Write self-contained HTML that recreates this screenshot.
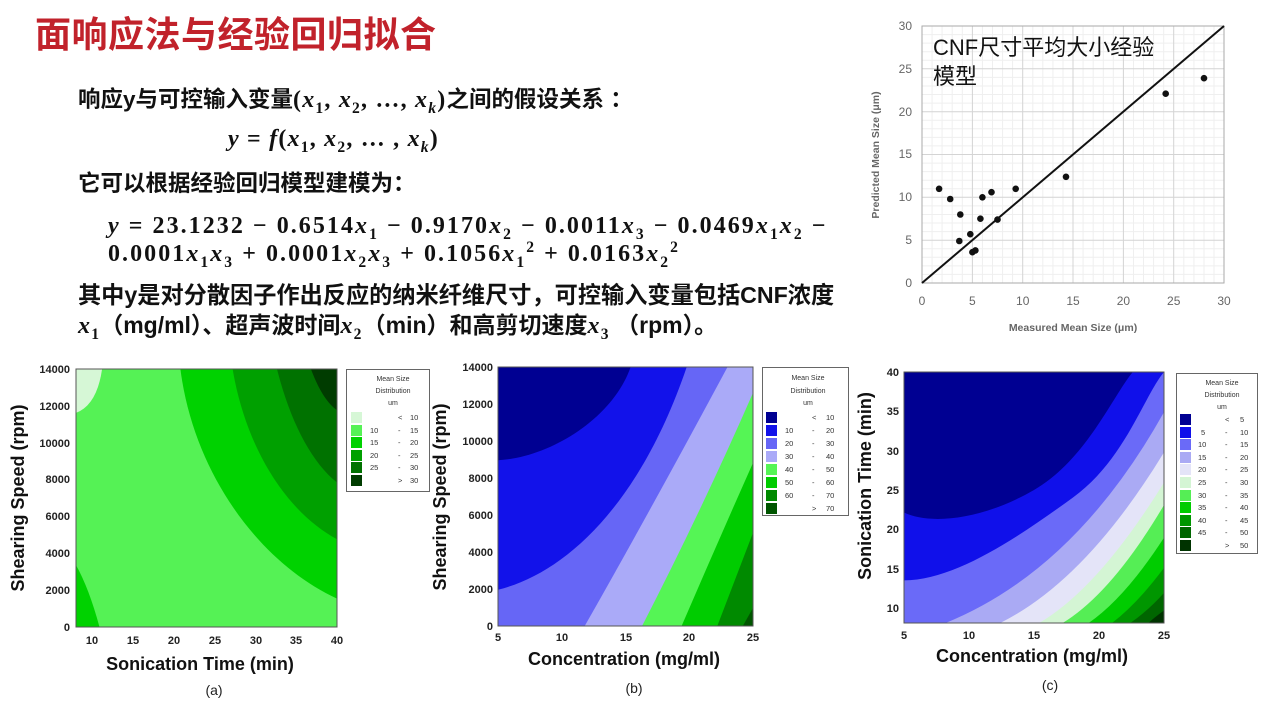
<!DOCTYPE html>
<html><head><meta charset="utf-8"><style>
body{margin:0;background:#fff;width:1267px;height:713px;overflow:hidden;position:relative;font-family:"Liberation Sans","Noto Sans CJK SC",sans-serif}
.t{position:absolute;white-space:nowrap;font-weight:bold;color:#111;font-size:22.5px;line-height:1}
.m{font-family:"Liberation Serif","Noto Serif CJK SC",serif;font-weight:bold;font-size:24px;letter-spacing:1.2px}
.m i{font-style:italic}
sub,sup{font-size:0.65em}
</style></head><body>
<div class="t" style="left:35px;top:17px;font-size:36px;color:#c1222b;font-weight:bold;letter-spacing:0.5px">面响应法与经验回归拟合</div>
<div class="t" style="left:78px;top:88px">响应y与可控输入变量<span class="m">(<i>x</i><sub>1</sub>, <i>x</i><sub>2</sub>, …, <i>x<sub>k</sub></i>)</span>之间的假设关系 ：</div>
<div class="t m" style="left:228px;top:127px"><i>y</i> = <i>f</i>(<i>x</i><sub>1</sub>, <i>x</i><sub>2</sub>, … , <i>x<sub>k</sub></i>)</div>
<div class="t" style="left:78px;top:173px">它可以根据经验回归模型建模为：</div>
<div class="t m" style="left:108px;top:214px;letter-spacing:2.05px"><i>y</i> = 23.1232 − 0.6514<i>x</i><sub>1</sub> − 0.9170<i>x</i><sub>2</sub> − 0.0011<i>x</i><sub>3</sub> − 0.0469<i>x</i><sub>1</sub><i>x</i><sub>2</sub> −</div>
<div class="t m" style="left:108px;top:240px;letter-spacing:2.05px">0.0001<i>x</i><sub>1</sub><i>x</i><sub>3</sub> + 0.0001<i>x</i><sub>2</sub><i>x</i><sub>3</sub> + 0.1056<i>x</i><sub>1</sub><sup>2</sup> + 0.0163<i>x</i><sub>2</sub><sup>2</sup></div>
<div class="t" style="left:78px;top:284px;font-size:23.2px">其中y是对分散因子作出反应的纳米纤维尺寸，可控输入变量包括CNF浓度</div>
<div class="t" style="left:78px;top:314px;font-size:23px"><span class="m"><i>x</i><sub>1</sub></span>（mg/ml）、超声波时间<span class="m"><i>x</i><sub>2</sub></span>（min）和高剪切速度<span class="m"><i>x</i><sub>3</sub></span> （rpm）。</div>

<svg width="1267" height="713" style="position:absolute;left:0;top:0" font-family="Liberation Sans, Noto Sans CJK SC, sans-serif">
<g stroke="#efefef" stroke-width="1">
<path d="M932.1 26V283M942.1 26V283M952.2 26V283M962.3 26V283M982.4 26V283M992.5 26V283M1002.6 26V283M1012.6 26V283M1032.8 26V283M1042.8 26V283M1052.9 26V283M1063 26V283M1083.1 26V283M1093.2 26V283M1103.3 26V283M1113.3 26V283M1133.5 26V283M1143.5 26V283M1153.6 26V283M1163.7 26V283M1183.8 26V283M1193.9 26V283M1204 26V283M1214 26V283"/>
<path d="M922 274.4H1224M922 265.9H1224M922 257.3H1224M922 248.7H1224M922 231.6H1224M922 223H1224M922 214.5H1224M922 205.9H1224M922 188.8H1224M922 180.2H1224M922 171.6H1224M922 163.1H1224M922 145.9H1224M922 137.4H1224M922 128.8H1224M922 120.2H1224M922 103.1H1224M922 94.5H1224M922 86H1224M922 77.4H1224M922 60.3H1224M922 51.7H1224M922 43.1H1224M922 34.6H1224"/>
</g>
<g stroke="#d4d4d4" stroke-width="1">
<path d="M972.4 26V283M1022.7 26V283M1073 26V283M1123.4 26V283M1173.7 26V283M922 240.2H1224M922 197.3H1224M922 154.5H1224M922 111.7H1224M922 68.8H1224"/>
</g>
<rect x="922" y="26" width="302" height="257" fill="none" stroke="#aaa"/>
<line x1="922" y1="283" x2="1224" y2="26" stroke="#111" stroke-width="2"/>
<g fill="#111">
<circle cx="939.1" cy="188.8" r="3.3"/><circle cx="950.2" cy="199" r="3.3"/><circle cx="960.3" cy="214.5" r="3.3"/><circle cx="959.3" cy="241" r="3.3"/><circle cx="970.3" cy="234.2" r="3.3"/><circle cx="972.4" cy="252.2" r="3.3"/><circle cx="975.4" cy="250.4" r="3.3"/><circle cx="980.4" cy="218.7" r="3.3"/><circle cx="982.4" cy="197.3" r="3.3"/><circle cx="991.5" cy="192.2" r="3.3"/><circle cx="997.5" cy="219.6" r="3.3"/><circle cx="1015.7" cy="188.8" r="3.3"/><circle cx="1066" cy="176.8" r="3.3"/><circle cx="1165.7" cy="93.7" r="3.3"/><circle cx="1204" cy="78.2" r="3.3"/>
</g>
<g fill="#666" font-size="12" text-anchor="middle">
<text x="922" y="305">0</text><text x="972.4" y="305">5</text><text x="1022.7" y="305">10</text><text x="1073" y="305">15</text><text x="1123.4" y="305">20</text><text x="1173.7" y="305">25</text><text x="1224" y="305">30</text>
</g>
<g fill="#666" font-size="12" text-anchor="end">
<text x="912" y="287">0</text><text x="912" y="244">5</text><text x="912" y="201">10</text><text x="912" y="158">15</text><text x="912" y="116">20</text><text x="912" y="73">25</text><text x="912" y="30">30</text>
</g>
<text x="1073" y="331" fill="#666" font-size="10.5" font-weight="bold" text-anchor="middle">Measured Mean Size (μm)</text>
<text transform="translate(879,155) rotate(-90)" fill="#666" font-size="10.5" font-weight="bold" text-anchor="middle">Predicted Mean Size (μm)</text>
<text x="933" y="55" fill="#111" font-size="22">CNF尺寸平均大小经验</text>
<text x="933" y="84" fill="#111" font-size="22">模型</text>

<svg x="76" y="369" width="261" height="258" viewBox="0 0 1 1" preserveAspectRatio="none">
<rect width="1" height="1" fill="#55f255"/>
<path d="M0 0L0.1 0Q0.08 0.14 0 0.17Z" fill="#d6f7d6"/>
<path d="M0 0.76Q0.05 0.85 0.09 1L0 1Z" fill="#00d200"/>
<path d="M0.40 0C0.45 0.4 0.7 0.75 1 0.89L1 0Z" fill="#00d200"/>
<path d="M0.60 0C0.65 0.3 0.8 0.55 1 0.66L1 0Z" fill="#00a000"/>
<path d="M0.77 0C0.82 0.2 0.9 0.36 1 0.44L1 0Z" fill="#007200"/>
<path d="M0.90 0C0.93 0.08 0.96 0.13 1 0.16L1 0Z" fill="#003c00"/>
</svg>
<rect x="76" y="369" width="261" height="258" fill="none" stroke="#555" stroke-width="1"/>
<g fill="#222" font-size="11" font-weight="bold" text-anchor="end">
<text x="70" y="631">0</text><text x="70" y="594">2000</text><text x="70" y="557">4000</text><text x="70" y="520">6000</text><text x="70" y="483">8000</text><text x="70" y="447">10000</text><text x="70" y="410">12000</text><text x="70" y="373">14000</text>
</g>
<g fill="#222" font-size="11" font-weight="bold" text-anchor="middle">
<text x="92" y="644">10</text><text x="133" y="644">15</text><text x="174" y="644">20</text><text x="215" y="644">25</text><text x="256" y="644">30</text><text x="296" y="644">35</text><text x="337" y="644">40</text>
</g>
<text x="200" y="670" fill="#111" font-size="18" font-weight="bold" text-anchor="middle">Sonication Time (min)</text>
<text transform="translate(24,498) rotate(-90)" fill="#111" font-size="18" font-weight="bold" text-anchor="middle">Shearing Speed (rpm)</text>
<text x="214" y="695" fill="#222" font-size="14" text-anchor="middle">(a)</text>
<rect x="346.5" y="369.5" width="83" height="122" fill="#fff" stroke="#666"/>
<g fill="#333" font-size="7" text-anchor="middle"><text x="393" y="381">Mean Size</text><text x="393" y="393">Distribution</text><text x="393" y="405">um</text></g>
<rect x="351" y="412" width="11" height="11" fill="#d6f7d6"/><rect x="351" y="425" width="11" height="11" fill="#55f255"/><rect x="351" y="437" width="11" height="11" fill="#00d200"/><rect x="351" y="450" width="11" height="11" fill="#00a000"/><rect x="351" y="462" width="11" height="11" fill="#007200"/><rect x="351" y="475" width="11" height="11" fill="#003c00"/>
<g fill="#333" font-size="7.5"><text x="398" y="420">&lt;</text><text x="410" y="420">10</text>
<text x="370" y="433">10</text><text x="398" y="433">-</text><text x="410" y="433">15</text>
<text x="370" y="445">15</text><text x="398" y="445">-</text><text x="410" y="445">20</text>
<text x="370" y="458">20</text><text x="398" y="458">-</text><text x="410" y="458">25</text>
<text x="370" y="470">25</text><text x="398" y="470">-</text><text x="410" y="470">30</text>
<text x="398" y="483">&gt;</text><text x="410" y="483">30</text></g>

<svg x="498" y="367" width="255" height="259" viewBox="0 0 1 1" preserveAspectRatio="none">
<rect width="1" height="1" fill="#005500"/>
<path d="M0 0H1V0.93L0.96 1H0Z" fill="#008a00"/>
<path d="M0 0H1V0.64Q0.93 0.82 0.86 1H0Z" fill="#00cc00"/>
<path d="M0 0H1V0.37Q0.86 0.68 0.72 1H0Z" fill="#55f555"/>
<path d="M0 0H1V0.1Q0.8 0.55 0.565 1H0Z" fill="#aaaaf8"/>
<path d="M0 0H0.90Q0.6 0.55 0.34 1H0Z" fill="#6666f6"/>
<path d="M0 0H0.74C0.55 0.55 0.25 0.8 0 0.86Z" fill="#1212ea"/>
<path d="M0 0H0.52C0.45 0.2 0.2 0.35 0 0.36Z" fill="#000092"/>
</svg>
<rect x="498" y="367" width="255" height="259" fill="none" stroke="#555"/>
<g fill="#222" font-size="11" font-weight="bold" text-anchor="end">
<text x="493" y="630">0</text><text x="493" y="593">2000</text><text x="493" y="556">4000</text><text x="493" y="519">6000</text><text x="493" y="482">8000</text><text x="493" y="445">10000</text><text x="493" y="408">12000</text><text x="493" y="371">14000</text>
</g>
<g fill="#222" font-size="11" font-weight="bold" text-anchor="middle">
<text x="498" y="641">5</text><text x="562" y="641">10</text><text x="626" y="641">15</text><text x="689" y="641">20</text><text x="753" y="641">25</text>
</g>
<text x="624" y="665" fill="#111" font-size="18" font-weight="bold" text-anchor="middle">Concentration (mg/ml)</text>
<text transform="translate(446,497) rotate(-90)" fill="#111" font-size="18" font-weight="bold" text-anchor="middle">Shearing Speed (rpm)</text>
<text x="634" y="693" fill="#222" font-size="14" text-anchor="middle">(b)</text>
<rect x="762.5" y="367.5" width="86" height="148" fill="#fff" stroke="#666"/>
<g fill="#333" font-size="7" text-anchor="middle"><text x="808" y="380">Mean Size</text><text x="808" y="393">Distribution</text><text x="808" y="405">um</text></g>
<rect x="766" y="412" width="11" height="11" fill="#000092"/><rect x="766" y="425" width="11" height="11" fill="#1212ea"/><rect x="766" y="438" width="11" height="11" fill="#6666f6"/><rect x="766" y="451" width="11" height="11" fill="#aaaaf8"/><rect x="766" y="464" width="11" height="11" fill="#55f555"/><rect x="766" y="477" width="11" height="11" fill="#00cc00"/><rect x="766" y="490" width="11" height="11" fill="#008a00"/><rect x="766" y="503" width="11" height="11" fill="#005500"/>
<g fill="#333" font-size="7.5"><text x="812" y="420">&lt;</text><text x="826" y="420">10</text>
<text x="785" y="433">10</text><text x="812" y="433">-</text><text x="826" y="433">20</text>
<text x="785" y="446">20</text><text x="812" y="446">-</text><text x="826" y="446">30</text>
<text x="785" y="459">30</text><text x="812" y="459">-</text><text x="826" y="459">40</text>
<text x="785" y="472">40</text><text x="812" y="472">-</text><text x="826" y="472">50</text>
<text x="785" y="485">50</text><text x="812" y="485">-</text><text x="826" y="485">60</text>
<text x="785" y="498">60</text><text x="812" y="498">-</text><text x="826" y="498">70</text>
<text x="812" y="511">&gt;</text><text x="826" y="511">70</text></g>

<svg x="904" y="372" width="260" height="251" viewBox="0 0 1 1" preserveAspectRatio="none">
<rect width="1" height="1" fill="#003300"/>
<path d="M0 0H1V0.95Q0.96 0.98 0.94 1H0Z" fill="#006600"/>
<path d="M0 0H1V0.88Q0.94 0.95 0.87 1H0Z" fill="#009600"/>
<path d="M0 0H1V0.78Q0.9 0.92 0.80 1H0Z" fill="#00cc00"/>
<path d="M0 0H1V0.66Q0.85 0.9 0.71 1H0Z" fill="#55ee55"/>
<path d="M0 0H1V0.53Q0.8 0.88 0.61 1H0Z" fill="#d4f5d4"/>
<path d="M0 0H1V0.44Q0.75 0.86 0.52 1H0Z" fill="#e4e4f8"/>
<path d="M0 0H1V0.32Q0.7 0.83 0.37 1H0Z" fill="#aaaaf4"/>
<path d="M0 0H1V0.16Q0.66 0.79 0.16 1H0Z" fill="#6a6af8"/>
<path d="M0 0H1V0C0.92 0.1 0.85 0.35 0.65 0.5S0.2 0.83 0 0.83Z" fill="#1010ea"/>
<path d="M0 0H0.88C0.8 0.1 0.7 0.35 0.5 0.47S0.1 0.61 0 0.56Z" fill="#000092"/>
</svg>
<rect x="904" y="372" width="260" height="251" fill="none" stroke="#555"/>
<g fill="#222" font-size="11" font-weight="bold" text-anchor="end">
<text x="899" y="612">10</text><text x="899" y="573">15</text><text x="899" y="533">20</text><text x="899" y="494">25</text><text x="899" y="455">30</text><text x="899" y="415">35</text><text x="899" y="376">40</text>
</g>
<g fill="#222" font-size="11" font-weight="bold" text-anchor="middle">
<text x="904" y="639">5</text><text x="969" y="639">10</text><text x="1034" y="639">15</text><text x="1099" y="639">20</text><text x="1164" y="639">25</text>
</g>
<text x="1032" y="662" fill="#111" font-size="18" font-weight="bold" text-anchor="middle">Concentration (mg/ml)</text>
<text transform="translate(871,486) rotate(-90)" fill="#111" font-size="18" font-weight="bold" text-anchor="middle">Sonication Time (min)</text>
<text x="1050" y="690" fill="#222" font-size="14" text-anchor="middle">(c)</text>
<rect x="1176.5" y="373.5" width="81" height="180" fill="#fff" stroke="#666"/>
<g fill="#333" font-size="7" text-anchor="middle"><text x="1222" y="385">Mean Size</text><text x="1222" y="397">Distribution</text><text x="1222" y="409">um</text></g>
<rect x="1180" y="414" width="11" height="11" fill="#000092"/><rect x="1180" y="427" width="11" height="11" fill="#1010ea"/><rect x="1180" y="439" width="11" height="11" fill="#6a6af8"/><rect x="1180" y="452" width="11" height="11" fill="#aaaaf4"/><rect x="1180" y="464" width="11" height="11" fill="#e4e4f8"/><rect x="1180" y="477" width="11" height="11" fill="#d4f5d4"/><rect x="1180" y="490" width="11" height="11" fill="#55ee55"/><rect x="1180" y="502" width="11" height="11" fill="#00cc00"/><rect x="1180" y="515" width="11" height="11" fill="#009600"/><rect x="1180" y="527" width="11" height="11" fill="#006600"/><rect x="1180" y="540" width="11" height="11" fill="#003300"/>
<g fill="#333" font-size="7.5"><text x="1225" y="422">&lt;</text><text x="1240" y="422">5</text>
<text x="1201" y="435">5</text><text x="1225" y="435">-</text><text x="1240" y="435">10</text>
<text x="1198" y="447">10</text><text x="1225" y="447">-</text><text x="1240" y="447">15</text>
<text x="1198" y="460">15</text><text x="1225" y="460">-</text><text x="1240" y="460">20</text>
<text x="1198" y="472">20</text><text x="1225" y="472">-</text><text x="1240" y="472">25</text>
<text x="1198" y="485">25</text><text x="1225" y="485">-</text><text x="1240" y="485">30</text>
<text x="1198" y="498">30</text><text x="1225" y="498">-</text><text x="1240" y="498">35</text>
<text x="1198" y="510">35</text><text x="1225" y="510">-</text><text x="1240" y="510">40</text>
<text x="1198" y="523">40</text><text x="1225" y="523">-</text><text x="1240" y="523">45</text>
<text x="1198" y="535">45</text><text x="1225" y="535">-</text><text x="1240" y="535">50</text>
<text x="1225" y="548">&gt;</text><text x="1240" y="548">50</text></g>
</svg>
</body></html>
